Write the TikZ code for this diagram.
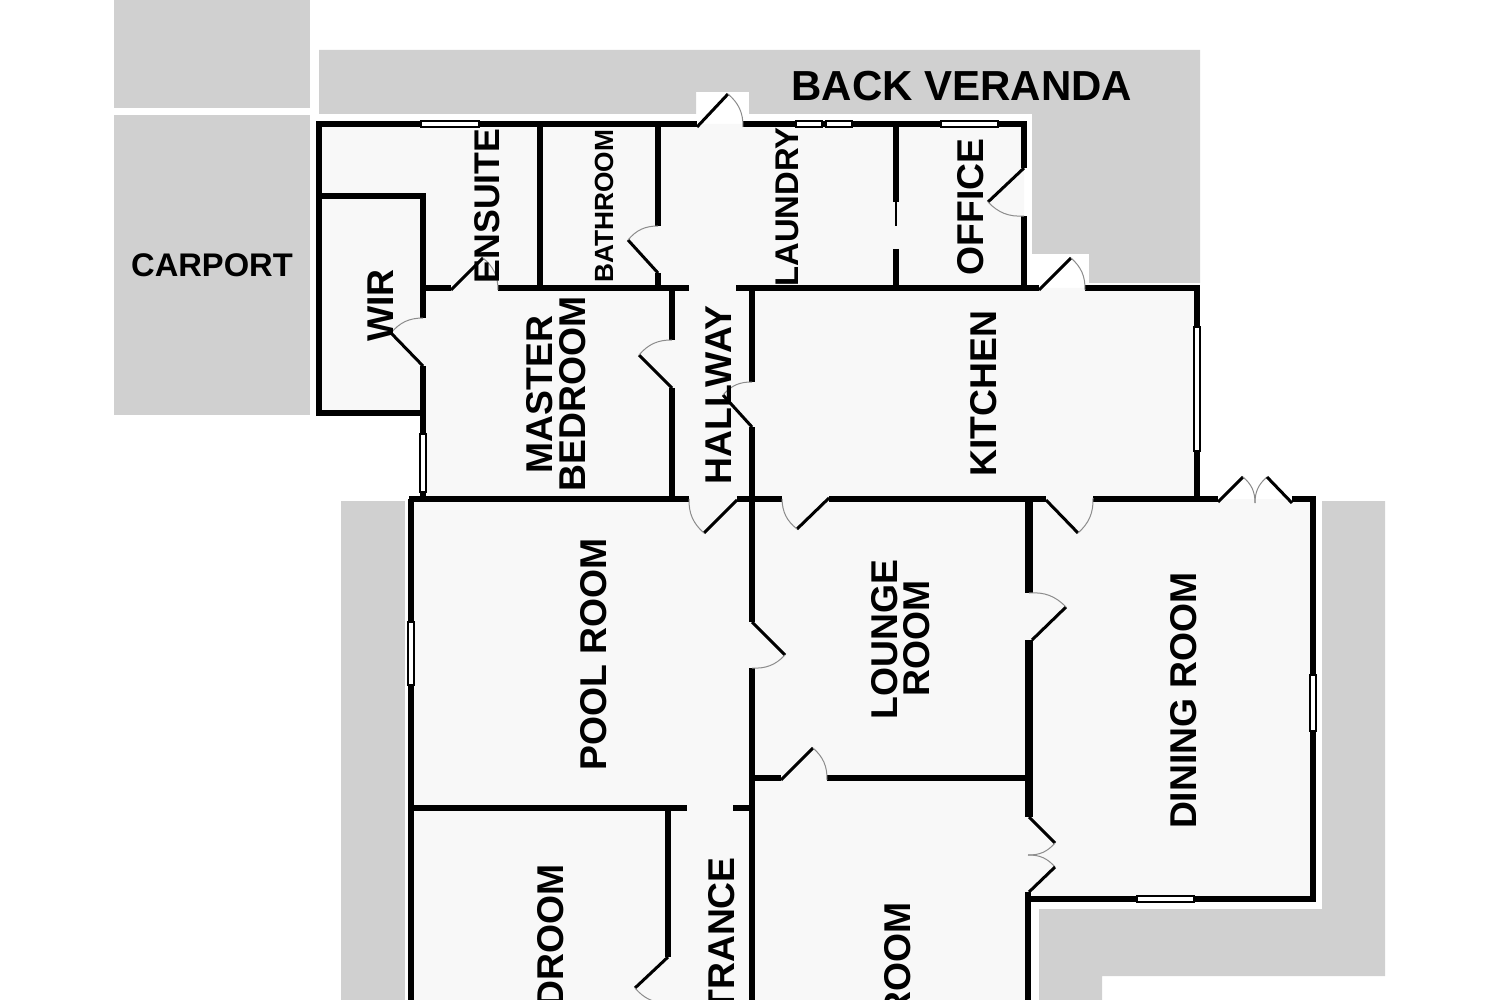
\documentclass[tikz,border=0pt]{standalone}
\usepackage{fontspec}
\setmainfont{Liberation Sans}

\definecolor{verandaGrey}{HTML}{D0D0D0}
\definecolor{floorGrey}{HTML}{F8F8F8}
\definecolor{swingGrey}{HTML}{8C8C8C}

\tikzset{
  wallLine/.style={draw=black, line width=6pt},
  thickWall/.style={draw=black, line width=8pt},
  thinWall/.style={draw=black, line width=1.6pt},
  doorLeaf/.style={draw=black, line width=3pt},
  doorSwing/.style={draw=swingGrey, line width=1pt},
  windowRect/.style={draw=black, fill=white, line width=2pt},
  roomLabel/.style={font=\bfseries\fontsize{37.3}{38}\selectfont, inner sep=0pt, rotate=90},
  smallLabel/.style={roomLabel, font=\bfseries\fontsize{26.3}{27}\selectfont},
  flatLabel/.style={font=\bfseries\fontsize{#1}{#1}\selectfont, inner sep=0pt}
}

\begin{document}
\begin{tikzpicture}[x=1pt, y=-1pt]

\useasboundingbox (0,0) rectangle (1500,1000);
\fill[white] (0,0) rectangle (1500,1000);

\fill[verandaGrey] (114,0) rectangle (310,108);
\fill[verandaGrey] (114,115) rectangle (310,415);
\fill[verandaGrey] (319,50) -- (1200,50) -- (1200,283) -- (1089,283) -- (1089,254) -- (1032,254) -- (1032,114) -- (749,114) -- (749,92) -- (696,92) -- (696,114) -- (319,114) -- cycle;
\fill[verandaGrey] (341,501) rectangle (405,1000);
\fill[verandaGrey] (1322,501) -- (1385,501) -- (1385,976) -- (1102,976) -- (1102,1000) -- (1039,1000) -- (1039,909) -- (1322,909) -- cycle;

\fill[floorGrey] (319,124) -- (1024,124) -- (1024,288) -- (1197,288) -- (1197,499) -- (1313,499) -- (1313,899) -- (1029,899) -- (1029,1000) -- (411,1000) -- (411,499) -- (423,499) -- (423,413) -- (319,413) -- cycle;

\draw[wallLine] (316,124) -- (697,124);
\draw[wallLine] (743,124) -- (1027,124);
\draw[wallLine] (319,124) -- (319,416);
\draw[wallLine] (319,196) -- (426,196);
\draw[wallLine] (319,413) -- (426,413);
\draw[wallLine] (423,196) -- (423,318);
\draw[wallLine] (423,366) -- (423,499);
\draw[wallLine] (540,124) -- (540,288);
\draw[wallLine] (658,124) -- (658,226);
\draw[wallLine] (658,273) -- (658,288);
\draw[wallLine] (896,124) -- (896,202);
\draw[thinWall] (896,202) -- (896,226);
\draw[wallLine] (896,249) -- (896,288);
\draw[wallLine] (1024,124) -- (1024,168);
\draw[wallLine] (1024,216) -- (1024,288);
\draw[wallLine] (423,288) -- (451,288);
\draw[wallLine] (498,288) -- (689,288);
\draw[wallLine] (736,288) -- (1039,288);
\draw[wallLine] (1085,288) -- (1200,288);
\draw[wallLine] (672,288) -- (672,340);
\draw[wallLine] (672,388) -- (672,499);
\draw[wallLine] (752,288) -- (752,382);
\draw[wallLine] (752,427) -- (752,622);
\draw[wallLine] (752,668) -- (752,1000);
\draw[wallLine] (1197,288) -- (1197,499);
\draw[wallLine] (409,499) -- (689,499);
\draw[wallLine] (737,499) -- (782,499);
\draw[wallLine] (829,499) -- (1046,499);
\draw[wallLine] (1093,499) -- (1218,499);
\draw[wallLine] (1292,499) -- (1316,499);
\draw[wallLine] (1313,499) -- (1313,902);
\draw[wallLine] (1029,899) -- (1316,899);
\draw[wallLine] (411,499) -- (411,1000);
\draw[thickWall] (1029,499) -- (1029,593);
\draw[thickWall] (1029,640) -- (1029,817);
\draw[wallLine] (1028,892) -- (1028,1000);
\draw[wallLine] (752,778) -- (781,778);
\draw[wallLine] (827,778) -- (1029,778);
\draw[wallLine] (411,808) -- (687,808);
\draw[wallLine] (733,808) -- (752,808);
\draw[wallLine] (668,808) -- (668,957);

\draw[doorLeaf] (697,127) -- (728,94);
\draw[doorSwing] (728,94) to[bend left=25] (743,127);
\draw[doorLeaf] (658,273) -- (628,240);
\draw[doorSwing] (628,240) to[bend left=25] (658,226);
\draw[doorLeaf] (423,366) -- (391,333);
\draw[doorSwing] (391,333) to[bend left=25] (423,318);
\draw[doorLeaf] (451,290) -- (483,258);
\draw[doorSwing] (483,258) to[bend left=25] (498,290);
\draw[doorLeaf] (1039,290) -- (1071,258);
\draw[doorSwing] (1071,258) to[bend left=25] (1085,290);
\draw[doorLeaf] (672,388) -- (639,355);
\draw[doorSwing] (639,355) to[bend left=25] (672,340);
\draw[doorLeaf] (752,427) -- (723,395);
\draw[doorSwing] (723,395) to[bend left=25] (752,382);
\draw[doorLeaf] (1024,168) -- (988,202);
\draw[doorSwing] (988,202) to[bend right=25] (1024,216);
\draw[doorLeaf] (737,500) -- (704,533);
\draw[doorSwing] (704,533) to[bend left=25] (689,499);
\draw[doorLeaf] (829,498) -- (797,529);
\draw[doorSwing] (797,529) to[bend left=25] (782,499);
\draw[doorLeaf] (1046,500) -- (1078,533);
\draw[doorSwing] (1078,533) to[bend right=25] (1093,498);
\draw[doorLeaf] (752,622) -- (785,655);
\draw[doorSwing] (785,655) to[bend left=25] (752,668);
\draw[doorLeaf] (1032,640) -- (1066,607);
\draw[doorSwing] (1066,607) to[bend right=25] (1029,593);
\draw[doorLeaf] (781,780) -- (813,748);
\draw[doorSwing] (813,748) to[bend left=25] (827,780);
\draw[doorLeaf] (668,957) -- (635,988);
\draw[doorSwing] (635,988) to[bend right=25] (668,1003);
\draw[doorLeaf] (1218,502) -- (1243,477);
\draw[doorSwing] (1243,477) to[bend left=25] (1255,503);
\draw[doorSwing] (1255,503) to[bend left=25] (1267,477);
\draw[doorLeaf] (1267,477) -- (1292,503);
\draw[doorLeaf] (1029,817) -- (1055,843);
\draw[doorSwing] (1055,843) to[bend left=25] (1028,855);
\draw[doorSwing] (1028,855) to[bend left=25] (1055,867);
\draw[doorLeaf] (1055,867) -- (1029,892);

\draw[windowRect] (421,121) rectangle (479,127);
\draw[windowRect] (796,121) rectangle (822,127);
\draw[windowRect] (826,121) rectangle (852,127);
\draw[windowRect] (941,121) rectangle (998,127);
\draw[windowRect] (420,434) rectangle (426,492);
\draw[windowRect] (1194,327) rectangle (1200,451);
\draw[windowRect] (408,622) rectangle (414,685);
\draw[windowRect] (1310,675) rectangle (1316,731);
\draw[windowRect] (1137,896) rectangle (1194,902);

\node (verandaLabel) [flatLabel=42] at (962,86) {BACK VERANDA};
\node (carportLabel) [flatLabel=32.7] at (212,265) {CARPORT};
\node (wirLabel) [roomLabel] at (380.5,305.5) {WIR};
\node (ensuiteLabel) [roomLabel, font=\bfseries\fontsize{35.7}{36}\selectfont] at (487,206) {ENSUITE};
\node (bathroomLabel) [smallLabel] at (604,206.5) {BATHROOM};
\node (laundryLabel) [roomLabel, font=\bfseries\fontsize{32.8}{33}\selectfont] at (787,207) {LAUNDRY};
\node (officeLabel) [roomLabel] at (971,207) {OFFICE};
\node (masterLabel) [roomLabel] at (540,394.5) {MASTER};
\node (masterBedLabel) [roomLabel] at (572.5,394) {BEDROOM};
\node (hallwayLabel) [roomLabel] at (719,395) {HALLWAY};
\node (kitchenLabel) [roomLabel] at (984,393.5) {KITCHEN};
\node (poolLabel) [roomLabel] at (594,654) {POOL ROOM};
\node (loungeLabel) [roomLabel] at (885,639.5) {LOUNGE};
\node (loungeRoomLabel) [roomLabel] at (916.5,638.5) {ROOM};
\node (diningLabel) [roomLabel] at (1184,700.5) {DINING ROOM};
\node (bedroomLabel) [roomLabel, anchor=east] at (551,864) {BEDROOM};
\node (entranceLabel) [roomLabel, anchor=east] at (722,857) {ENTRANCE};
\node (lowerRoomLabel) [roomLabel, anchor=east] at (898,902) {ROOM};

\end{tikzpicture}
\end{document}
